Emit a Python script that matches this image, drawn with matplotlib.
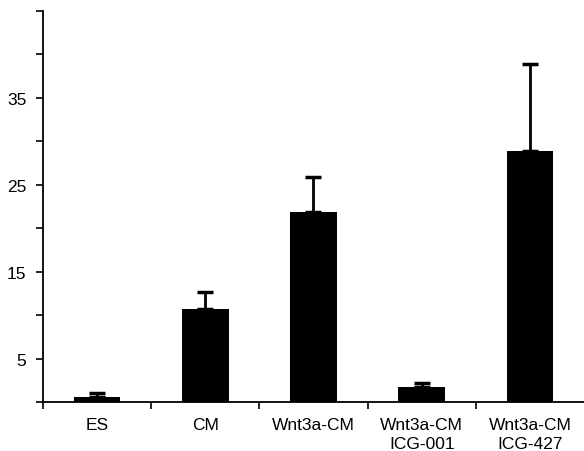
import matplotlib
matplotlib.use("Agg")
from matplotlib import pyplot as plt
import numpy as np

plt.rcParams['font.family'] = ['Liberation Sans', 'DejaVu Sans']

# 数据
groups = ["ES", "CM", "Wnt3a-CM", "Wnt3a-CM\nICG-001", "Wnt3a-CM\nICG-427"]
means = [0.6, 10.7, 21.9, 1.7, 28.9]
errs = [0.45, 1.95, 4.0, 0.46, 10.0]
y_labels = {5: "5", 15: "15", 25: "25", 35: "35"}

fig = plt.figure(figsize=(5.84, 4.52), dpi=100)
ax = fig.add_axes([0.0736, 0.1084, 0.9264, 0.8651])

x = np.arange(len(groups))
ax.bar(x, means, width=0.43, color="black", zorder=2)
ax.errorbar(x, means, yerr=[[0] * len(errs), errs], fmt="none", ecolor="black",
            elinewidth=2, capsize=5.5, capthick=2.5, zorder=3)

ax.set_xlim(-0.5, 4.5)
ax.set_ylim(0, 45)

# y轴刻度：每5一个，只标注5,15,25,35
yt = list(range(0, 46, 5))
ax.set_yticks(yt)
ax.set_yticklabels([y_labels.get(v, "") for v in yt])

# x轴：类别在中间，刻度线在分界处
ax.set_xticks(x)
ax.set_xticklabels(groups, linespacing=1.35)
ax.set_xticks(np.arange(-0.5, 4.5, 1), minor=True)
ax.tick_params(axis="x", which="major", length=0, pad=11, labelsize=12.5)
ax.tick_params(axis="x", which="minor", length=5, width=1.2, direction="out")
ax.tick_params(axis="y", length=5, width=1.2, direction="out", labelsize=12.5, pad=7)

for s in ["top", "right"]:
    ax.spines[s].set_visible(False)
for s in ["left", "bottom"]:
    ax.spines[s].set_linewidth(1.3)

fig.savefig("out.png", dpi=100)
